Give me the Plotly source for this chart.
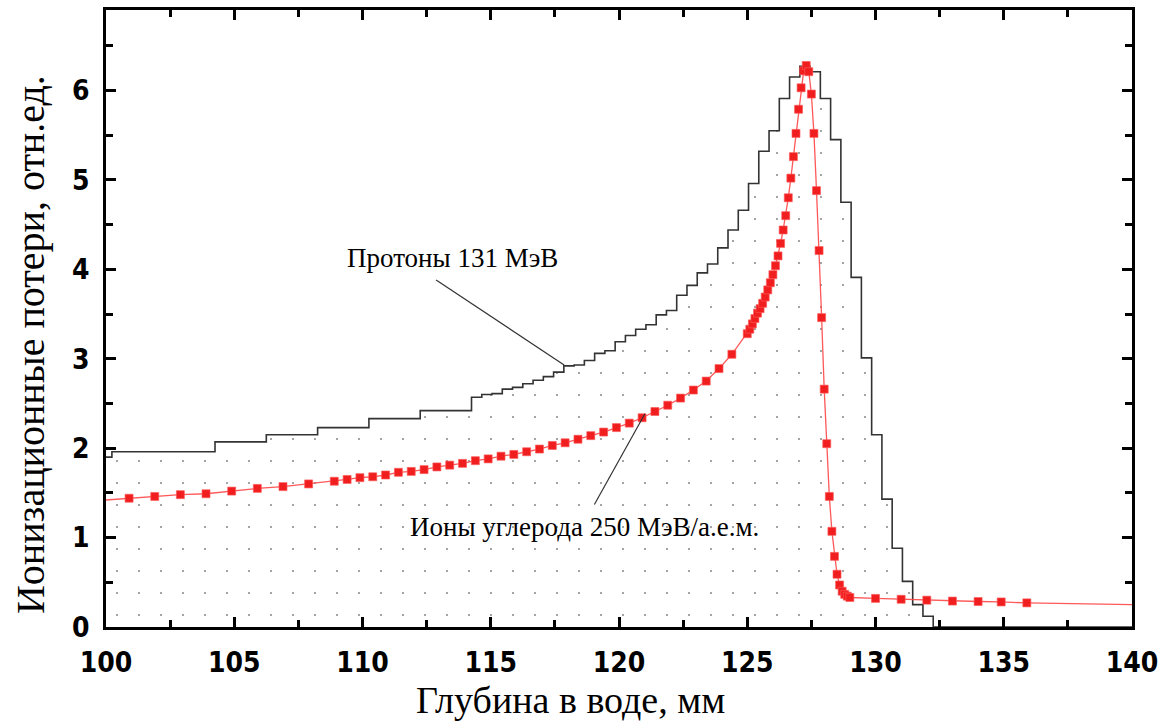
import plotly.graph_objects as go

# ---- Proton histogram (step) : bin left edges and bin heights ----
proton_edges = [99.8, 100.23, 104.25, 106.25, 108.25, 110.25, 112.25,
                114.25, 114.65, 115.05, 115.45, 115.85, 116.25, 116.65, 117.05,
                117.45, 117.85, 118.25, 118.65, 119.05, 119.45, 119.85, 120.25,
                120.65, 121.05, 121.45, 121.85, 122.25, 122.65, 123.05, 123.45,
                123.85, 124.25, 124.65, 125.05, 125.45, 125.85, 126.25, 126.65,
                127.05, 127.45, 127.85, 128.25, 128.65, 129.05, 129.45, 129.85,
                130.25, 130.65, 131.05, 131.45, 131.85, 132.25, 140.0]
proton_vals = [1.90, 1.96, 2.07, 2.15, 2.23, 2.33, 2.42,
               2.57, 2.60, 2.61, 2.66, 2.68, 2.72, 2.76, 2.80,
               2.85, 2.92, 2.93, 2.98, 3.06, 3.09, 3.19, 3.26,
               3.33, 3.38, 3.49, 3.54, 3.71, 3.82, 3.96, 4.06,
               4.24, 4.44, 4.66, 4.96, 5.32, 5.55, 5.91, 6.15,
               6.27, 6.21, 5.91, 5.45, 4.75, 3.91, 3.01, 2.15,
               1.43, 0.88, 0.51, 0.25, 0.12, 0.0, 0.0]

# ---- Carbon ions (markers) ----
carbon_x = [100.9, 101.9, 102.9, 103.9, 104.9, 105.9, 106.9, 107.9, 108.9,
            109.4, 109.9, 110.4, 110.9, 111.4, 111.9, 112.4, 112.9, 113.4, 113.9,
            114.4, 114.9, 115.4, 115.9, 116.4, 116.9, 117.4, 117.9, 118.4, 118.9,
            119.4, 119.9, 120.4, 120.9, 121.4, 121.9, 122.4, 122.9, 123.4, 123.9,
            124.4,
            125.0, 125.1, 125.2, 125.3, 125.4, 125.5, 125.6, 125.7, 125.8, 125.9,
            126.0, 126.1, 126.2, 126.3, 126.4, 126.5, 126.6, 126.7, 126.8, 126.9,
            127.0, 127.1, 127.2, 127.3, 127.4, 127.5, 127.6, 127.7, 127.8, 127.9,
            128.0, 128.1, 128.2, 128.3, 128.4, 128.5, 128.6, 128.7, 128.8, 128.9,
            129.0, 130.0, 131.0, 132.0, 133.0, 134.0, 134.9, 135.9]
carbon_y = [1.44, 1.46, 1.48, 1.49, 1.52, 1.55, 1.57, 1.60, 1.63,
            1.65, 1.67, 1.68, 1.70, 1.73, 1.74, 1.76, 1.79, 1.81, 1.83,
            1.86, 1.88, 1.91, 1.93, 1.96, 1.99, 2.03, 2.06, 2.10, 2.14,
            2.18, 2.23, 2.28, 2.34, 2.41, 2.48, 2.56, 2.65, 2.75, 2.89,
            3.05,
            3.28, 3.33, 3.39, 3.45, 3.51, 3.56, 3.62, 3.69, 3.77, 3.85,
            3.94, 4.04, 4.15, 4.29, 4.44, 4.60, 4.80, 5.02, 5.26, 5.52,
            5.79, 6.03, 6.22, 6.28, 6.21, 5.96, 5.52, 4.88, 4.21, 3.46,
            2.66, 2.05, 1.46, 1.07, 0.79, 0.59, 0.47, 0.40, 0.365, 0.345,
            0.33, 0.32, 0.31, 0.30, 0.29, 0.285, 0.28, 0.27]
# line continues beyond the markers to the plot edges
carbon_line_start = (100.0, 1.42)
carbon_line_end = (140.0, 0.25)

x_ticks = [100, 105, 110, 115, 120, 125, 130, 135, 140]
y_ticks = [0, 1, 2, 3, 4, 5, 6]

fig = go.Figure()

fig.add_trace(go.Scatter(
    x=proton_edges, y=proton_vals, mode="lines", line_shape="hv",
    line=dict(color="#333333", width=1.6),
    fill="tozeroy", fillcolor="rgba(0,0,0,0)",
    fillpattern=dict(shape=".", size=22, solidity=0.007,
                     fgcolor="#111111", bgcolor="rgba(0,0,0,0)", fillmode="overlay"),
    showlegend=False, hoverinfo="skip"))

line_x = [carbon_line_start[0]] + carbon_x + [carbon_line_end[0]]
line_y = [carbon_line_start[1]] + carbon_y + [carbon_line_end[1]]
fig.add_trace(go.Scatter(
    x=line_x, y=line_y, mode="lines",
    line=dict(color="rgba(255,70,70,0.9)", width=1.3),
    showlegend=False, hoverinfo="skip"))
fig.add_trace(go.Scatter(
    x=carbon_x, y=carbon_y, mode="markers",
    marker=dict(symbol="square", size=8, color="#f01e1e",
                line=dict(width=0.8, color="rgba(255,90,90,0.8)")),
    showlegend=False))

serif = "Liberation Serif, Times New Roman, serif"
tickfont = dict(family="Liberation Sans Narrow, Arial Narrow, DejaVu Sans Condensed, Liberation Sans",
                size=28, color="black", weight="bold")

axis_common = dict(showgrid=False, zeroline=False, showline=True, linecolor="black",
                   linewidth=2.5, mirror="ticks", ticks="inside", ticklen=10,
                   tickwidth=2.5, tickcolor="black", tickfont=tickfont, automargin=False)

fig.update_xaxes(range=[100, 140], tickvals=x_ticks, ticktext=[str(v) for v in x_ticks],
                 minor=dict(dtick=2.5, tick0=100, ticks="inside", ticklen=7,
                            tickwidth=2.5, tickcolor="black", showgrid=False),
                 ticklabelstandoff=9, **axis_common)
fig.update_yaxes(range=[0, 6.9], tickvals=y_ticks, ticktext=[str(v) for v in y_ticks],
                 minor=dict(dtick=0.5, tick0=0, ticks="inside", ticklen=7,
                            tickwidth=2.5, tickcolor="black", showgrid=False),
                 ticklabelstandoff=8, **axis_common)

# leader lines of the labels
fig.add_shape(type="line", xref="x", yref="y", x0=112.87, y0=3.88, x1=117.86, y1=2.93,
              line=dict(color="#333333", width=1.2))
fig.add_shape(type="line", xref="x", yref="y", x0=119.04, y0=1.37, x1=121.01, y1=2.385,
              line=dict(color="#333333", width=1.2))

fig.add_annotation(x=113.49, y=4.13, xref="x", yref="y", text="Протоны 131 МэВ",
                   xanchor="center", yanchor="middle",
                   showarrow=False, font=dict(family=serif, size=27, color="black"))
fig.add_annotation(x=118.67, y=1.12, xref="x", yref="y", text="Ионы углерода 250 МэВ/а.е.м.",
                   xanchor="center", yanchor="middle",
                   showarrow=False, font=dict(family=serif, size=27, color="black"))

# axis titles
fig.add_annotation(x=0.453, y=-0.118, xref="paper", yref="paper", text="Глубина в воде, мм",
                   xanchor="center", yanchor="middle",
                   showarrow=False, font=dict(family=serif, size=38, color="black"))
fig.add_annotation(x=-0.074, y=0.457, xref="paper", yref="paper",
                   text="Ионизационные потери, отн.ед.", textangle=-90,
                   xanchor="center", yanchor="middle",
                   showarrow=False, font=dict(family=serif, size=40, color="black"))

fig.update_layout(width=1162, height=722, margin=dict(l=106, r=30, t=10, b=95),
                  plot_bgcolor="white", paper_bgcolor="white")

fig.write_html("out.html")
